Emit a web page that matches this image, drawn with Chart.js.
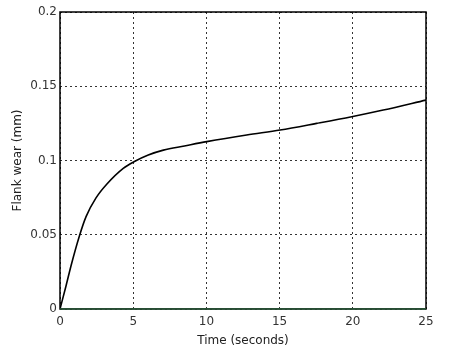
<!DOCTYPE html>
<html>
<head>
<meta charset="utf-8">
<script src="https://cdn.jsdelivr.net/npm/chart.js@4"></script>
<style>
  html, body { margin: 0; padding: 0; background: #fff; }
  #wrap { width: 457px; height: 351px; }
</style>
</head>
<body>
<div id="wrap"><canvas id="myChart" width="457" height="351"></canvas></div>
<script>
// values
var times = [0, 0.41, 0.75, 1.32, 1.78, 2.46, 3.19, 4.32, 5.12, 6.03, 7.06, 8.5, 10.02, 12.75, 15.03, 17.53, 19.92, 22.08, 25];
var wear  = [0, 0.0155, 0.029, 0.049, 0.0622, 0.0748, 0.0840, 0.0947, 0.0995, 0.1037, 0.107, 0.1098, 0.1127, 0.1172, 0.1205, 0.125, 0.1295, 0.134, 0.1407];
var baseTimes = [0, 25];
var baseWear = [0, 0];
var xTicks = [0, 5, 10, 15, 20, 25];
var yTicks = [0, 0.05, 0.1, 0.15, 0.2];

var font = { family: "'DejaVu Sans', sans-serif", size: 12 };

// black box round the plot area
var frame = {
  id: 'frame',
  afterDraw: function (chart) {
    var a = chart.chartArea, c = chart.ctx;
    c.save();
    c.strokeStyle = '#000';
    c.lineWidth = 1.5;
    c.strokeRect(a.left, a.top, a.right - a.left, a.bottom - a.top);
    // green baseline sits on top of the frame
    c.strokeStyle = '#2e5e3e';
    c.beginPath();
    c.moveTo(a.left, a.bottom);
    c.lineTo(a.right, a.bottom);
    c.stroke();
    c.restore();
  }
};

new Chart(document.getElementById('myChart'), {
  type: 'line',
  data: {
    datasets: [
      {
        data: times.map(function (t, i) { return { x: t, y: wear[i] }; }),
        borderColor: '#000',
        borderWidth: 1.6,
        pointRadius: 0,
        cubicInterpolationMode: 'monotone',
        fill: false
      },
      {
        data: baseTimes.map(function (t, i) { return { x: t, y: baseWear[i] }; }),
        borderColor: '#2e5e3e',
        borderWidth: 1.5,
        pointRadius: 0,
        fill: false
      }
    ]
  },
  options: {
    responsive: false,
    animation: false,
    layout: { padding: { top: 12, right: 31, left: 0, bottom: 0 } },
    plugins: { legend: { display: false }, tooltip: { enabled: false } },
    scales: {
      x: {
        type: 'linear',
        min: 0, max: 25,
        afterBuildTicks: function (s) { s.ticks = xTicks.map(function (v) { return { value: v }; }); },
        afterFit: function (s) { s.height = 42; },
        grid: { color: '#000', lineWidth: 0.8, drawTicks: false },
        border: { display: false, dash: [2, 3] },
        ticks: { color: '#333', font: font, padding: 6, maxRotation: 0 },
        title: { display: true, text: 'Time (seconds)', color: '#222', font: font, padding: { top: 2, bottom: 3 } }
      },
      y: {
        type: 'linear',
        min: 0, max: 0.2,
        afterBuildTicks: function (s) { s.ticks = yTicks.map(function (v) { return { value: v }; }); },
        afterFit: function (s) { s.width = 60; },
        grid: { color: '#000', lineWidth: 0.8, drawTicks: false },
        border: { display: false, dash: [2, 3] },
        ticks: { color: '#333', font: font, padding: 3, callback: function (v) { return String(v); } },
        title: { display: true, text: 'Flank wear (mm)', color: '#222', font: font, padding: { top: 11, bottom: 0 } }
      }
    }
  },
  plugins: [frame]
});
</script>
</body>
</html>
